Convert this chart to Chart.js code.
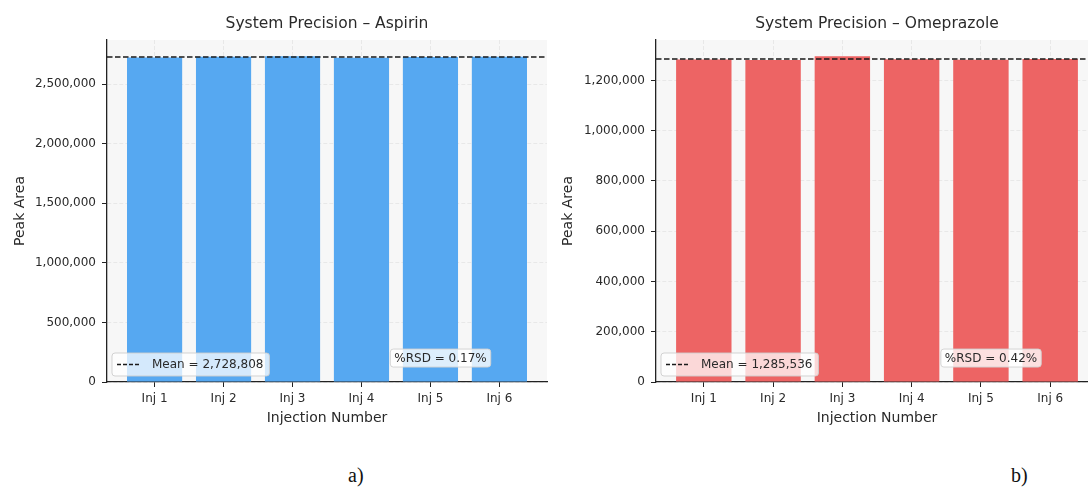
<!DOCTYPE html>
<html>
<head>
<meta charset="utf-8">
<title>System Precision</title>
<script src="https://cdn.jsdelivr.net/npm/chart.js@4.4.1/dist/chart.umd.min.js"></script>
<style>
  body { margin: 0; background: #fff; }
  #page { position: relative; width: 1088px; height: 490px; overflow: hidden; }
  canvas { position: absolute; top: 0; }
  #aspirinChart { left: 0; }
  #omeprazoleChart { left: 548px; }
  .panel-tag { position: absolute; top: 464px; font-family: 'Liberation Serif', serif; font-size: 20px; color: #111; }
</style>
</head>
<body>
<div id="page">
  <canvas id="aspirinChart" width="550" height="440"></canvas>
  <canvas id="omeprazoleChart" width="553" height="440"></canvas>
  <div class="panel-tag" style="left:348px">a)</div>
  <div class="panel-tag" style="left:1011px">b)</div>
</div>
<script>
const injections = ['Inj 1', 'Inj 2', 'Inj 3', 'Inj 4', 'Inj 5', 'Inj 6'];
const aspirinArea = [2724100, 2731500, 2734600, 2722100, 2729400, 2731150];
const omeprazoleArea = [1283900, 1281200, 1296200, 1284600, 1282400, 1284916];
const aspirinMean = 2728808;
const omeprazoleMean = 1285536;
const aspirinRsd = 0.17;
const omeprazoleRsd = 0.42;
const aspirinStep = 500000;
const omeprazoleStep = 200000;

const FONT = "'DejaVu Sans', sans-serif";
const TEXT = '#2a2a2a';
const fmt = v => Math.round(v).toLocaleString('en-US');

function roundBox(ctx, x, y, w, h, r, fill, stroke) {
  ctx.beginPath();
  ctx.moveTo(x + r, y);
  ctx.lineTo(x + w - r, y);
  ctx.arcTo(x + w, y, x + w, y + r, r);
  ctx.lineTo(x + w, y + h - r);
  ctx.arcTo(x + w, y + h, x + w - r, y + h, r);
  ctx.lineTo(x + r, y + h);
  ctx.arcTo(x, y + h, x, y + h - r, r);
  ctx.lineTo(x, y + r);
  ctx.arcTo(x, y, x + r, y, r);
  ctx.closePath();
  ctx.fillStyle = fill;
  ctx.fill();
  ctx.strokeStyle = stroke;
  ctx.lineWidth = 1;
  ctx.stroke();
}

// light grey face behind the plot
const axesFace = {
  id: 'axesFace',
  beforeDraw(chart) {
    const { ctx, chartArea: a } = chart;
    ctx.save();
    ctx.fillStyle = '#f7f7f7';
    ctx.fillRect(a.left, a.top, a.right - a.left, a.bottom - a.top);
    ctx.restore();
  }
};

// dashed mean line over the full width, then the legend and %RSD boxes
const meanLine = {
  id: 'meanLine',
  afterDatasetsDraw(chart, args, opts) {
    const { ctx, chartArea: a, scales: { y } } = chart;
    const py = y.getPixelForValue(opts.mean);
    ctx.save();
    ctx.strokeStyle = '#1a1a1a';
    ctx.lineWidth = 1.6;
    ctx.setLineDash([5.5, 2.5]);
    ctx.beginPath();
    ctx.moveTo(a.left, py);
    ctx.lineTo(a.right, py);
    ctx.stroke();
    ctx.restore();
  },
  afterDraw(chart, args, opts) {
    const { ctx, chartArea: a } = chart;
    ctx.save();
    ctx.font = '12px ' + FONT;
    ctx.textBaseline = 'middle';

    const label = 'Mean = ' + fmt(opts.mean);
    const lw = ctx.measureText(label).width;
    const bh = 23;
    const bx = a.left + 5;
    const by = a.bottom - 6 - bh;
    roundBox(ctx, bx, by, 40 + lw + 6, bh, 3, 'rgba(255,255,255,0.75)', 'rgba(205,205,205,0.9)');
    ctx.strokeStyle = '#1a1a1a';
    ctx.lineWidth = 1.5;
    ctx.setLineDash([4, 2]);
    ctx.beginPath();
    ctx.moveTo(bx + 5, by + bh / 2);
    ctx.lineTo(bx + 27, by + bh / 2);
    ctx.stroke();
    ctx.setLineDash([]);
    ctx.fillStyle = TEXT;
    ctx.fillText(label, bx + 40, by + bh / 2 + 0.5);

    const rsdText = '%RSD = ' + opts.rsd.toFixed(2) + '%';
    const rw = ctx.measureText(rsdText).width;
    const cx = a.left + (a.right - a.left) * 0.758;
    const cy = a.bottom - (a.bottom - a.top) * 0.07;
    roundBox(ctx, cx - rw / 2 - 4, cy - 9, rw + 8, 18, 3, 'rgba(255,255,255,0.8)', 'rgba(210,210,210,0.9)');
    ctx.fillStyle = TEXT;
    ctx.textAlign = 'center';
    ctx.fillText(rsdText, cx, cy + 0.5);
    ctx.restore();
  }
};

function buildChart(id, title, values, color, mean, rsd, step, axisWidth) {
  const yTop = Math.max(...values) * 1.05;
  const yTicks = [];
  for (let v = 0; v <= yTop; v += step) yTicks.push({ value: v });

  return new Chart(document.getElementById(id), {
    type: 'bar',
    data: {
      datasets: [{
        data: values.map((v, i) => ({ x: i, y: v })),
        backgroundColor: color,
        borderWidth: 0,
        barPercentage: 0.8,
        categoryPercentage: 1
      }]
    },
    options: {
      responsive: false,
      animation: false,
      layout: { padding: { left: 0, right: 3, top: 0, bottom: 0 } },
      plugins: {
        legend: { display: false },
        tooltip: { enabled: false },
        title: {
          display: true,
          text: title,
          fullSize: false,
          color: TEXT,
          font: { family: FONT, size: 15.5, weight: 'normal' },
          padding: { top: 14.7, bottom: 6.7 }
        },
        meanLine: { mean, rsd }
      },
      scales: {
        x: {
          type: 'linear',
          offset: false,
          min: -0.69,
          max: injections.length - 1 + 0.69,
          z: 1,
          afterBuildTicks: s => { s.ticks = injections.map((_, i) => ({ value: i })); },
          afterFit: s => { s.height = 58; },
          ticks: {
            callback: v => injections[v],
            color: TEXT,
            font: { family: FONT, size: 12 },
            padding: 5,
            maxRotation: 0,
            autoSkip: false
          },
          grid: { offset: false, color: 'rgba(0,0,0,0.06)', tickColor: '#222', tickLength: 5, tickWidth: 1 },
          border: { display: true, color: '#222', width: 1.3, dash: [4, 2] },
          title: {
            display: true,
            text: 'Injection Number',
            color: TEXT,
            font: { family: FONT, size: 14 },
            padding: { top: 0, bottom: 13.6 }
          }
        },
        y: {
          min: 0,
          max: yTop,
          z: 1,
          afterBuildTicks: s => { s.ticks = yTicks.slice(); },
          afterFit: s => { s.width = axisWidth; },
          ticks: {
            callback: v => fmt(v),
            color: TEXT,
            font: { family: FONT, size: 12 },
            padding: 6
          },
          grid: { color: 'rgba(0,0,0,0.06)', tickColor: '#222', tickLength: 5, tickWidth: 1 },
          border: { display: true, color: '#222', width: 1.3, dash: [4, 2] },
          title: {
            display: true,
            text: 'Peak Area',
            color: TEXT,
            font: { family: FONT, size: 14 },
            padding: { top: 11.6, bottom: 0 }
          }
        }
      }
    },
    plugins: [axesFace, meanLine]
  });
}

buildChart('aspirinChart', 'System Precision – Aspirin', aspirinArea, '#56a8f1',
  aspirinMean, aspirinRsd, aspirinStep, 107);
buildChart('omeprazoleChart', 'System Precision – Omeprazole', omeprazoleArea, '#ed6464',
  omeprazoleMean, omeprazoleRsd, omeprazoleStep, 108);
</script>
</body>
</html>
